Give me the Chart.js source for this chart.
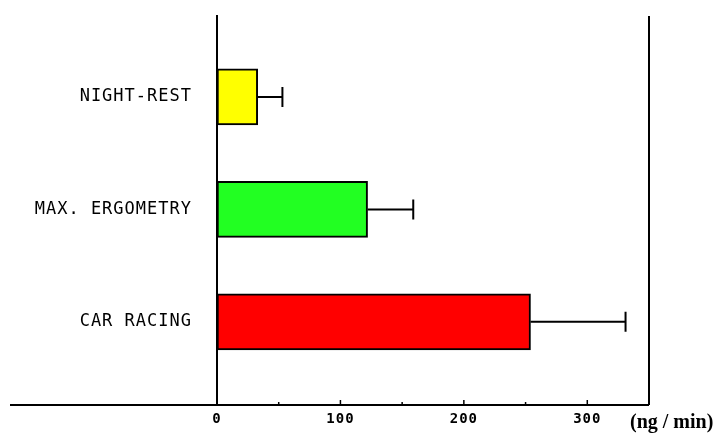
<!DOCTYPE html>
<html>
<head>
<meta charset="utf-8">
<script src="https://cdn.jsdelivr.net/npm/chart.js@4.4.0/dist/chart.umd.min.js"></script>
<style>
  html, body { margin: 0; padding: 0; background: #fff; }
  #wrap { width: 722px; height: 436px; }
</style>
</head>
<body>
<div id="wrap"><canvas id="chart" width="722" height="436"></canvas></div>
<script>
// data
const categories = ['NIGHT-REST', 'MAX. ERGOMETRY', 'CAR RACING'];
const means = [33, 122, 254];
const upperErrors = [53, 159, 331];
const barColors = ['#ffff00', '#22ff22', '#ff0000'];
const xTickLabels = [0, 100, 200, 300];
const unitLabel = '(ng / min)';

// error bars, the inner tick marks and the frame lines
const decorations = {
    id: 'decorations',
    beforeDraw(chart) {
        chart.ctx.letterSpacing = '1px';
    },
    afterDatasetsDraw(chart) {
        const ctx = chart.ctx;
        const x = chart.scales.x;
        const meta = chart.getDatasetMeta(0);
        ctx.save();
        ctx.strokeStyle = '#000';
        ctx.lineWidth = 2;
        meta.data.forEach((bar, i) => {
            const xEnd = x.getPixelForValue(upperErrors[i]);
            ctx.beginPath();
            ctx.moveTo(bar.x, bar.y);
            ctx.lineTo(xEnd, bar.y);
            ctx.moveTo(xEnd, bar.y - 10);
            ctx.lineTo(xEnd, bar.y + 10);
            ctx.stroke();
        });
        ctx.restore();
    },
    afterDraw(chart) {
        const ctx = chart.ctx;
        const area = chart.chartArea;
        const x = chart.scales.x;
        ctx.save();
        ctx.letterSpacing = '0px';
        ctx.strokeStyle = '#000';
        ctx.lineWidth = 2;
        ctx.beginPath();
        // axis line runs on to the left edge
        ctx.moveTo(10, area.bottom);
        ctx.lineTo(area.right, area.bottom);
        // right frame
        ctx.moveTo(area.right, area.top);
        ctx.lineTo(area.right, area.bottom);
        ctx.stroke();
        // inner ticks every 50
        ctx.lineWidth = 1.5;
        for (let v = 50; v < 350; v += 50) {
            const px = x.getPixelForValue(v);
            const len = v % 100 === 0 ? 5 : 3;
            ctx.beginPath();
            ctx.moveTo(px, area.bottom);
            ctx.lineTo(px, area.bottom - len);
            ctx.stroke();
        }
        ctx.fillStyle = '#000';
        ctx.font = 'bold 20px "Liberation Serif"';
        ctx.textAlign = 'left';
        ctx.textBaseline = 'middle';
        ctx.fillText(unitLabel, area.right - 19, area.bottom + 18);
        ctx.restore();
    }
};

const noPadding = scale => {
    scale.paddingTop = 0;
    scale.paddingBottom = 0;
    scale.paddingLeft = 0;
    scale.paddingRight = 0;
};

new Chart(document.getElementById('chart'), {
    type: 'bar',
    data: {
        datasets: [{
            data: means.map((v, i) => ({ x: v, y: i })),
            backgroundColor: barColors,
            borderColor: '#000',
            borderWidth: 2,
            borderSkipped: false,
            barThickness: 56
        }]
    },
    options: {
        indexAxis: 'y',
        responsive: false,
        animation: false,
        events: [],
        layout: { padding: { top: 16, right: 73, left: 0, bottom: 0 } },
        plugins: {
            legend: { display: false },
            tooltip: { enabled: false }
        },
        scales: {
            x: {
                type: 'linear',
                min: 0,
                max: 350,
                offset: false,
                afterFit(scale) { scale.height = 31; noPadding(scale); },
                afterBuildTicks(scale) {
                    scale.ticks = xTickLabels.map(v => ({ value: v }));
                },
                grid: { display: false, drawTicks: false },
                border: { display: false },
                ticks: {
                    padding: 6,
                    color: '#000',
                    font: { family: 'DejaVu Sans Mono', size: 14, weight: 'bold' },
                    maxRotation: 0
                }
            },
            y: {
                type: 'linear',
                reverse: true,
                min: -0.72,
                max: 2.74,
                offset: false,
                afterFit(scale) { scale.width = 217; noPadding(scale); },
                afterBuildTicks(scale) {
                    scale.ticks = categories.map((c, i) => ({ value: i }));
                },
                grid: { display: false, drawTicks: false, offset: false },
                border: { display: true, color: '#000', width: 2 },
                ticks: {
                    padding: 25,
                    color: '#000',
                    font: { family: 'DejaVu Sans Mono', size: 17 },
                    callback: v => categories[v]
                }
            }
        }
    },
    plugins: [decorations]
});
</script>
</body>
</html>
